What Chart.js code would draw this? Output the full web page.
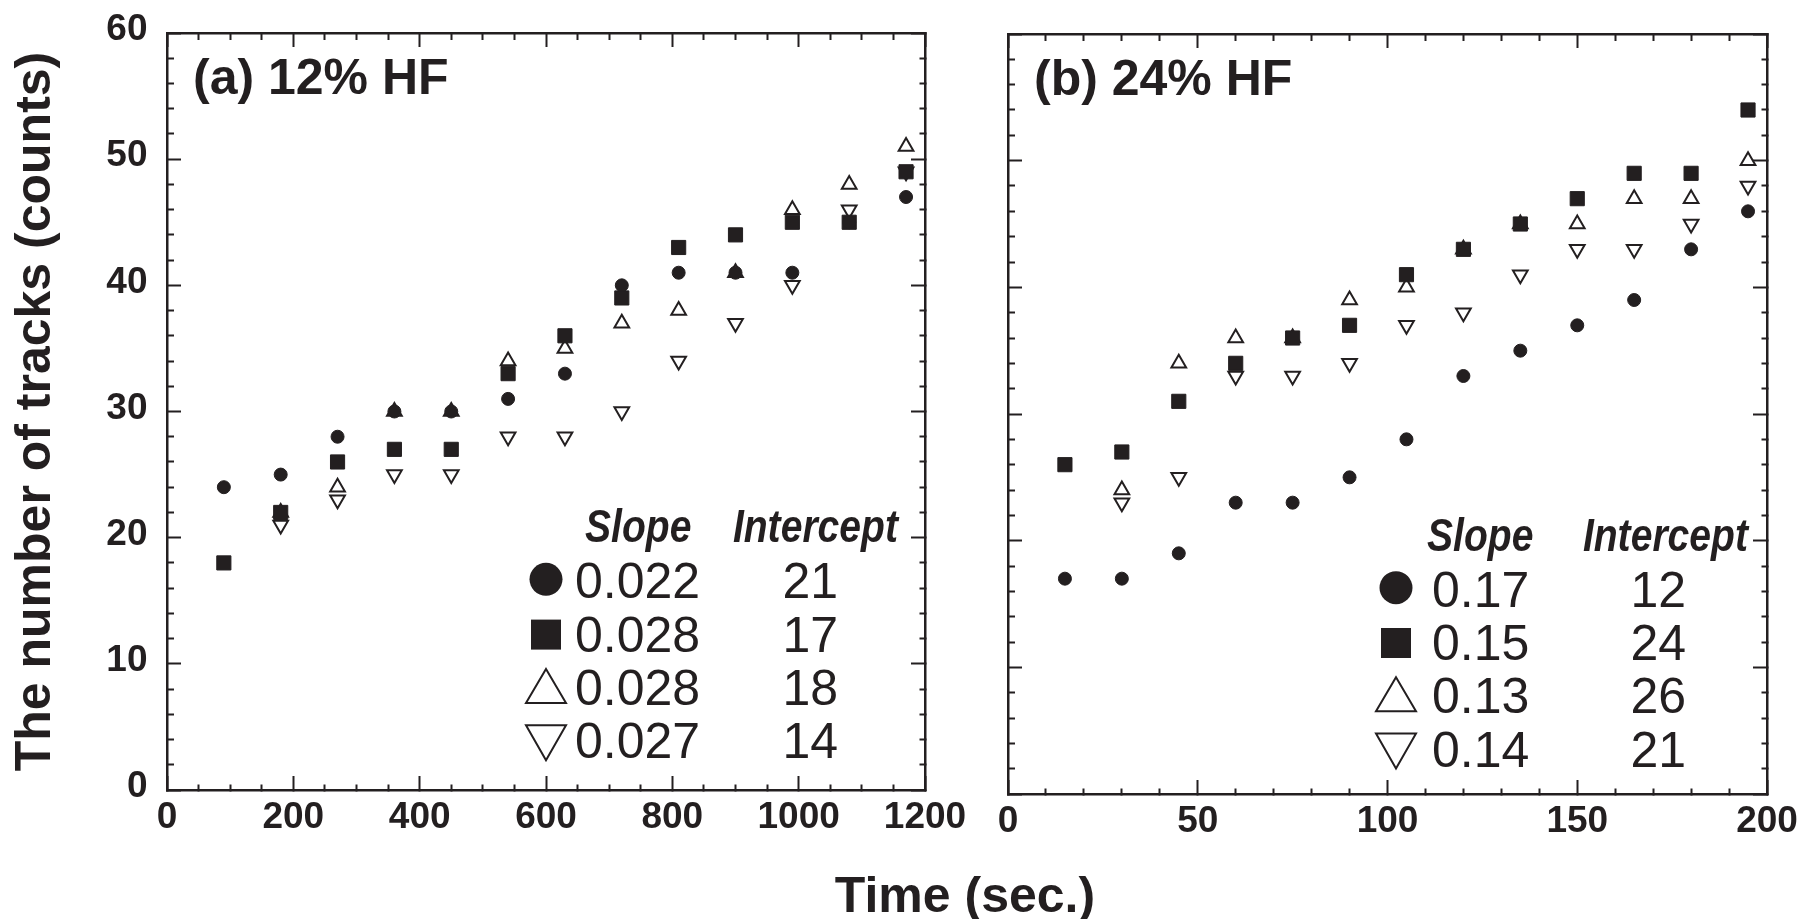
<!DOCTYPE html>
<html>
<head>
<meta charset="utf-8">
<title>Track counts vs time</title>
<script src="https://cdn.jsdelivr.net/npm/chart.js@4.4.1/dist/chart.umd.min.js"></script>
<style>
  html, body { margin: 0; padding: 0; background: #fff; }
  #wrap { position: relative; width: 1801px; height: 919px; overflow: hidden; }
  #boxA { position: absolute; left: 0; top: 0; }
  #boxB { position: absolute; left: 975px; top: 0; }
  #xTitle {
    position: absolute; left: 765px; top: 866px; width: 400px;
    text-align: center; line-height: 50px; color: #231f20;
    font: bold 50px 'Liberation Sans', Arial, Helvetica, sans-serif;
  }
</style>
</head>
<body>
<div id="wrap">
  <div id="boxA"><canvas id="chartA" width="975" height="919"></canvas></div>
  <div id="boxB"><canvas id="chartB" width="826" height="919"></canvas></div>
  <div id="xTitle">Time (sec.)</div>
</div>
<script>
// ---- data ----
// (a) 12% HF
const timeA = [90, 180, 270, 360, 450, 540, 630, 720, 810, 900, 990, 1080, 1170];
const circleA = [24, 25, 28, 30, 30, 31, 33, 40, 41, 41, 41, 45, 47];
const squareA = [18, 22, 26, 27, 27, 33, 36, 39, 43, 44, 45, 45, 49];
const upA = [null, 22, 24, 30, 30, 34, 35, 37, 38, 41, 46, 48, 51];
const downA = [null, 21, 23, 25, 25, 28, 28, 30, 34, 37, 40, 46, 49];
const slopeA = ['0.022', '0.028', '0.028', '0.027'];
const interceptA = ['21', '17', '18', '14'];

// (b) 24% HF
const timeB = [15, 30, 45, 60, 75, 90, 105, 120, 135, 150, 165, 180, 195];
const circleB = [17, 17, 19, 23, 23, 25, 28, 33, 35, 37, 39, 43, 46];
const squareB = [26, 27, 31, 34, 36, 37, 41, 43, 45, 47, 49, 49, 54];
const upB = [null, 24, 34, 36, 36, 39, 40, 43, 45, 45, 47, 47, 50];
const downB = [null, 23, 25, 33, 33, 34, 37, 38, 41, 43, 43, 45, 48];
const slopeB = ['0.17', '0.15', '0.13', '0.14'];
const interceptB = ['12', '24', '26', '21'];

// labelled (major) ticks
const xTicksA = [0, 200, 400, 600, 800, 1000, 1200];
const xTicksB = [0, 50, 100, 150, 200];
const yTicks = [0, 10, 20, 30, 40, 50, 60];

const INK = '#231f20';
const FAMILY = "'Liberation Sans', Arial, Helvetica, sans-serif";
Chart.defaults.font.family = FAMILY;
Chart.defaults.color = INK;

const pts = (xs, ys) => xs.map((x, i) => ({ x: x, y: ys[i] }));

const markers = [
  { pointStyle: 'circle', radius: 6.5, fill: INK, width: 1, rotation: 0 },
  { pointStyle: 'rect', radius: 10, fill: INK, width: 1, rotation: 0 },
  { pointStyle: 'triangle', radius: 8.5, fill: 'transparent', width: 2, rotation: 0 },
  { pointStyle: 'triangle', radius: 8.5, fill: 'transparent', width: 2, rotation: 180 }
];

function makeDatasets(xs, series) {
  return series.map((ys, i) => ({
    data: pts(xs, ys),
    pointStyle: markers[i].pointStyle,
    pointRadius: markers[i].radius,
    pointHoverRadius: markers[i].radius,
    pointRotation: markers[i].rotation,
    pointBackgroundColor: markers[i].fill,
    pointBorderColor: INK,
    pointBorderWidth: markers[i].width,
    showLine: false
  }));
}

// inward tick marks; minor ticks get a dash so they come out half as long
function tickMarks(majors, innerFirst) {
  return {
    display: true,
    drawOnChartArea: false,
    drawTicks: true,
    tickLength: -14,
    tickWidth: 2,
    tickColor: INK,
    tickBorderDash: c => {
      if (!c.tick || majors.includes(c.tick.value)) return [];
      return innerFirst ? [0, 7, 100] : [7, 100];
    }
  };
}

const border = { display: true, color: INK, width: 2.5 };

// fix the box size and drop the label overhang so the plot area stays put
const fixBox = (w, h) => s => {
  if (w !== null) s.width = w;
  if (h !== null) s.height = h;
  s.paddingLeft = s.paddingRight = s.paddingTop = s.paddingBottom = 0;
};

function scalesFor(xMax, xStep, xMajors, showY, yWidth) {
  const tickFont = { size: 37, weight: 'bold' };
  return {
    x: {
      type: 'linear', axis: 'x', position: 'bottom', min: 0, max: xMax,
      border: border,
      grid: tickMarks(xMajors, false),
      ticks: {
        stepSize: xStep, maxTicksLimit: 100, autoSkip: false, maxRotation: 0,
        padding: 20, color: INK, font: tickFont,
        callback: v => xMajors.includes(v) ? String(v) : ''
      },
      afterFit: fixBox(null, 50)
    },
    xTop: {
      type: 'linear', axis: 'x', position: 'top', min: 0, max: xMax,
      border: border,
      grid: tickMarks(xMajors, true),
      ticks: { stepSize: xStep, maxTicksLimit: 100, autoSkip: false, callback: () => '' },
      afterFit: fixBox(null, 0)
    },
    y: {
      type: 'linear', axis: 'y', position: 'left', min: 0, max: 60,
      border: border,
      grid: tickMarks(yTicks, true),
      ticks: {
        stepSize: 2, maxTicksLimit: 100, autoSkip: false,
        padding: 33.5, labelOffset: -3, color: INK, font: tickFont,
        callback: v => (showY && yTicks.includes(v)) ? String(v) : ''
      },
      title: {
        display: showY, text: 'The number of tracks (counts)', color: INK,
        font: { size: 50, weight: 'bold' }, padding: { top: 6, bottom: 0 }
      },
      afterFit: fixBox(yWidth, null)
    },
    yRight: {
      type: 'linear', axis: 'y', position: 'right', min: 0, max: 60,
      border: border,
      grid: tickMarks(yTicks, false),
      ticks: { stepSize: 2, maxTicksLimit: 100, autoSkip: false, callback: () => '' },
      afterFit: fixBox(0, null)
    }
  };
}

// legend glyphs, drawn relative to the text baseline
function glyph(ctx, kind, cx, base) {
  ctx.beginPath();
  if (kind === 0) {
    ctx.arc(cx, base - 19, 16.5, 0, Math.PI * 2);
    ctx.fill();
  } else if (kind === 1) {
    ctx.fillRect(cx - 15, base - 32, 30, 30);
  } else if (kind === 2) {
    ctx.moveTo(cx, base - 36); ctx.lineTo(cx + 20, base - 2); ctx.lineTo(cx - 20, base - 2);
    ctx.closePath(); ctx.stroke();
  } else {
    ctx.moveTo(cx - 20, base - 33); ctx.lineTo(cx + 20, base - 33); ctx.lineTo(cx, base + 2);
    ctx.closePath(); ctx.stroke();
  }
}

function condensed(ctx, text, x, y, align) {
  ctx.save();
  ctx.translate(x, y);
  ctx.scale(0.85, 1);
  ctx.textAlign = align;
  ctx.fillText(text, 0, 0);
  ctx.restore();
}

function annotate(cfg) {
  return {
    id: 'annotate',
    afterDraw(chart) {
      const { ctx, chartArea: a } = chart;
      ctx.save();
      ctx.fillStyle = INK;
      ctx.strokeStyle = INK;
      ctx.lineWidth = 2;
      ctx.textBaseline = 'alphabetic';

      ctx.font = 'bold 50px ' + FAMILY;
      ctx.textAlign = 'left';
      ctx.fillText(cfg.label, a.left + 26, a.top + 61);

      ctx.font = 'italic bold 46px ' + FAMILY;
      const hb = a.bottom - cfg.header;
      condensed(ctx, 'Slope', a.right - 340, hb, 'left');
      condensed(ctx, 'Intercept', a.right - cfg.interceptHead, hb, 'right');

      ctx.font = '50px ' + FAMILY;
      cfg.slopes.forEach((s, i) => {
        const base = a.bottom - cfg.row1 + i * 53.3;
        glyph(ctx, i, a.right - cfg.markX, base);
        ctx.textAlign = 'left';
        ctx.fillText(s, a.right - cfg.slopeX, base);
        ctx.textAlign = 'right';
        ctx.fillText(cfg.intercepts[i], a.right - cfg.interX, base);
      });
      ctx.restore();
    }
  };
}

function baseOptions(padding, scales) {
  return {
    responsive: false,
    animation: false,
    layout: { padding: padding },
    plugins: { legend: { display: false }, tooltip: { enabled: false } },
    scales: scales
  };
}

new Chart(document.getElementById('chartA'), {
  type: 'scatter',
  data: { datasets: makeDatasets(timeA, [circleA, squareA, upA, downA]) },
  options: baseOptions({ left: 0, top: 33, right: 50, bottom: 79 },
    scalesFor(1200, 50, xTicksA, true, 167)),
  plugins: [annotate({
    label: '(a) 12% HF', slopes: slopeA, intercepts: interceptA,
    header: 248.3, row1: 191.7, markX: 379, slopeX: 350, interX: 87, interceptHead: 27
  })]
});

new Chart(document.getElementById('chartB'), {
  type: 'scatter',
  data: { datasets: makeDatasets(timeB, [circleB, squareB, upB, downB]) },
  options: baseOptions({ left: 0, top: 34, right: 34, bottom: 75 },
    scalesFor(200, 10, xTicksB, false, 33)),
  plugins: [annotate({
    label: '(b) 24% HF', slopes: slopeB, intercepts: interceptB,
    header: 243, row1: 187.3, markX: 371, slopeX: 335, interX: 81, interceptHead: 19
  })]
});
</script>
</body>
</html>
